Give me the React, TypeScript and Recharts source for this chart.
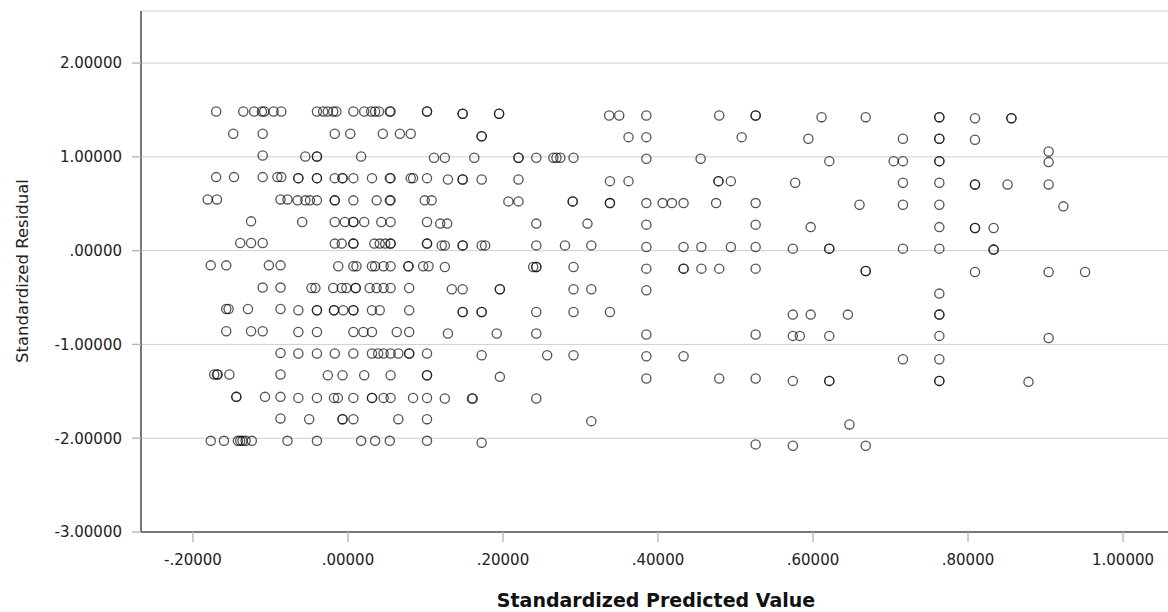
import { CartesianGrid, Label, Scatter, ScatterChart, XAxis, YAxis } from "recharts";

// each row: [standardized residual, predicted values sitting on that residual band]
type Row = [number, number[]];

const farLeftRows: Row[] = [
  [1.483, [-0.17, -0.135, -0.121, -0.111, -0.108, -0.096, -0.086]],
  [1.246, [-0.148, -0.11]],
  [1.015, [-0.11]],
  [0.784, [-0.17, -0.147, -0.11, -0.091, -0.086]],
  [0.546, [-0.181, -0.169, -0.087, -0.078]],
  [0.312, [-0.125]],
  [0.081, [-0.139, -0.125, -0.11]],
  [-0.157, [-0.177, -0.157, -0.102, -0.087]],
  [-0.394, [-0.11, -0.087]],
  [-0.622, [-0.157, -0.154, -0.129, -0.087]],
  [-0.859, [-0.157, -0.125, -0.11]],
  [-1.091, [-0.087]],
  [-1.321, [-0.1725, -0.169, -0.168, -0.153, -0.087]],
  [-1.559, [-0.144, -0.144, -0.107, -0.087]],
  [-1.789, [-0.087]],
  [-2.028, [-0.177, -0.16, -0.142, -0.139, -0.136, -0.132, -0.124, -0.078]],
];

const nearZeroRows: Row[] = [
  [1.483, [-0.04, -0.032, -0.026, -0.019, -0.015, 0.007, 0.021, 0.03, 0.035, 0.04, 0.054, 0.055, 0.102, 0.102]],
  [1.246, [-0.017, 0.003, 0.045, 0.067, 0.081]],
  [1.004, [-0.055, -0.04, -0.04, 0.017]],
  [0.773, [-0.064, -0.064, -0.04, -0.04, -0.017, -0.007, -0.007, 0.007, 0.031, 0.054, 0.055, 0.081, 0.084, 0.102]],
  [0.536, [-0.065, -0.055, -0.049, -0.04, -0.017, -0.017, 0.007, 0.037, 0.054, 0.055, 0.099, 0.108]],
  [0.305, [-0.059, -0.017, -0.004, 0.007, 0.007, 0.021, 0.043, 0.055, 0.102]],
  [0.075, [-0.017, -0.008, 0.007, 0.007, 0.034, 0.041, 0.048, 0.055, 0.055, 0.102, 0.102]],
  [-0.167, [-0.0125, 0.007, 0.011, 0.031, 0.035, 0.046, 0.055, 0.078, 0.078, 0.097, 0.104]],
  [-0.398, [-0.047, -0.042, -0.019, -0.008, -0.002, 0.01, 0.01, 0.028, 0.037, 0.046, 0.055, 0.079]],
  [-0.636, [-0.064, -0.04, -0.04, -0.018, -0.018, -0.006, 0.007, 0.007, 0.031, 0.041, 0.079]],
  [-0.867, [-0.064, -0.04, 0.007, 0.02, 0.031, 0.063, 0.079]],
  [-1.097, [-0.064, -0.04, -0.017, 0.007, 0.031, 0.039, 0.046, 0.055, 0.065, 0.079, 0.079, 0.102]],
  [-1.328, [-0.026, -0.007, 0.021, 0.055, 0.102, 0.102]],
  [-1.57, [-0.064, -0.04, -0.018, -0.013, 0.007, 0.031, 0.031, 0.046, 0.055, 0.084, 0.102]],
  [-1.797, [-0.05, -0.007, -0.007, 0.007, 0.065, 0.102]],
  [-2.028, [-0.04, 0.017, 0.035, 0.054, 0.102]],
];

const lowMidRows: Row[] = [
  [1.459, [0.148, 0.148, 0.195, 0.195]],
  [1.22, [0.1725, 0.1725]],
  [0.99, [0.111, 0.125, 0.163, 0.22, 0.22, 0.243, 0.265, 0.269, 0.274, 0.291]],
  [0.759, [0.129, 0.148, 0.148, 0.1725, 0.22]],
  [0.525, [0.207, 0.22, 0.29, 0.29]],
  [0.288, [0.119, 0.128, 0.243, 0.309]],
  [0.056, [0.121, 0.125, 0.148, 0.148, 0.1725, 0.177, 0.243, 0.28, 0.314]],
  [-0.175, [0.125, 0.239, 0.243, 0.243, 0.291]],
  [-0.412, [0.134, 0.148, 0.196, 0.196, 0.291, 0.314]],
  [-0.654, [0.148, 0.148, 0.1725, 0.1725, 0.243, 0.291]],
  [-0.884, [0.129, 0.192, 0.243]],
  [-1.115, [0.1725, 0.257, 0.291]],
  [-1.346, [0.196]],
  [-1.576, [0.125, 0.16, 0.161, 0.243]],
  [-1.818, [0.314]],
  [-2.049, [0.1725]],
];

const midRows: Row[] = [
  [1.441, [0.337, 0.35, 0.385, 0.479, 0.526, 0.526]],
  [1.21, [0.362, 0.385, 0.508]],
  [0.98, [0.385, 0.455]],
  [0.741, [0.338, 0.362, 0.478, 0.478, 0.494]],
  [0.507, [0.338, 0.338, 0.385, 0.406, 0.418, 0.433, 0.475, 0.526]],
  [0.277, [0.385, 0.526]],
  [0.038, [0.385, 0.433, 0.456, 0.494, 0.526]],
  [-0.192, [0.385, 0.433, 0.433, 0.456, 0.479, 0.526]],
  [-0.423, [0.385]],
  [-0.654, [0.338]],
  [-0.895, [0.385, 0.526]],
  [-1.126, [0.385, 0.433]],
  [-1.363, [0.385, 0.479, 0.526]],
  [-2.066, [0.526]],
];

const upperMidRows: Row[] = [
  [1.423, [0.611, 0.668, 0.763, 0.763]],
  [1.193, [0.594, 0.716, 0.763, 0.763]],
  [0.954, [0.621, 0.704, 0.716, 0.763, 0.763]],
  [0.724, [0.577, 0.716, 0.763]],
  [0.49, [0.66, 0.716, 0.763]],
  [0.251, [0.597, 0.763]],
  [0.021, [0.574, 0.621, 0.621, 0.716, 0.763]],
  [-0.217, [0.668, 0.668]],
  [-0.458, [0.763]],
  [-0.682, [0.574, 0.597, 0.645, 0.763, 0.763]],
  [-0.909, [0.574, 0.583, 0.621, 0.763]],
  [-1.158, [0.716, 0.763]],
  [-1.389, [0.574, 0.621, 0.621, 0.763, 0.763]],
  [-1.853, [0.647]],
  [-2.081, [0.574, 0.668]],
];

const highRows: Row[] = [
  [1.412, [0.809, 0.856, 0.856]],
  [1.182, [0.809]],
  [1.057, [0.904]],
  [0.944, [0.904]],
  [0.706, [0.809, 0.809, 0.851, 0.904]],
  [0.472, [0.923]],
  [0.241, [0.809, 0.809, 0.833]],
  [0.011, [0.833, 0.833]],
  [-0.228, [0.809, 0.904, 0.951]],
  [-0.931, [0.904]],
  [-1.399, [0.878]],
];

const xTicks = [-0.2, 0, 0.2, 0.4, 0.6, 0.8, 1.0];
const yTicks = [-3, -2, -1, 0, 1, 2];

const points = [...farLeftRows, ...nearZeroRows, ...lowMidRows, ...midRows, ...upperMidRows, ...highRows].flatMap(
  ([resid, preds]) => preds.map((pred) => ({ pred, resid }))
);

const FONT = "'DejaVu Sans', sans-serif";

// SPSS style: five decimals, no leading zero
function fmt(v: number) {
  const s = Math.abs(v).toFixed(5);
  const body = s.startsWith("0") ? s.slice(1) : s;
  return (v < 0 ? "-" : "") + body;
}

const Ring = (props: any) => (
  <circle cx={props.cx} cy={props.cy} r={4.6} fill="none" stroke="#111" strokeOpacity={0.72} strokeWidth={1.3} />
);

const tickStyle = { fill: "#222", fontSize: 15, fontFamily: FONT };

export default function App() {
  return (
    <div style={{ position: "absolute", left: 0, top: 0, width: 1168, height: 612, background: "#fff", fontFamily: FONT }}>
      <ScatterChart width={1168} height={612} margin={{ top: 11, right: 0, bottom: 0, left: 0 }}>
        <CartesianGrid vertical={false} stroke="#cfcfcf" />
        <XAxis
          xAxisId="top"
          orientation="top"
          type="number"
          dataKey="pred"
          domain={[-0.267, 1.058]}
          allowDataOverflow
          height={0}
          tick={false}
          tickLine={false}
          axisLine={{ stroke: "#555", strokeWidth: 1.6 }}
        />
        <XAxis
          type="number"
          dataKey="pred"
          domain={[-0.267, 1.058]}
          allowDataOverflow
          ticks={xTicks}
          interval={0}
          tickFormatter={fmt}
          height={80}
          tickSize={10}
          tickMargin={12}
          tick={tickStyle}
          tickLine={{ stroke: "#bbb", strokeWidth: 1.5 }}
          axisLine={{ stroke: "#555", strokeWidth: 1.6 }}
        >
          <Label
            content={() => (
              <text x={656} y={607} textAnchor="middle" fontFamily={FONT} fontSize={19} fontWeight="bold" fill="#111">
                Standardized Predicted Value
              </text>
            )}
          />
        </XAxis>
        <YAxis
          type="number"
          dataKey="resid"
          domain={[-3, 2.555]}
          allowDataOverflow
          ticks={yTicks}
          interval={0}
          tickFormatter={fmt}
          width={141}
          tickSize={9}
          tickMargin={10}
          tick={tickStyle}
          tickLine={{ stroke: "#bbb", strokeWidth: 1.5 }}
          axisLine={{ stroke: "#555", strokeWidth: 1.6 }}
        >
          <Label
            content={() => (
              <text
                x={22}
                y={271}
                dy="0.35em"
                transform="rotate(-90, 22, 271)"
                textAnchor="middle"
                fontFamily={FONT}
                fontSize={16.5}
                fill="#222"
              >
                Standardized Residual
              </text>
            )}
          />
        </YAxis>
        <Scatter data={points} shape={Ring} isAnimationActive={false} />
      </ScatterChart>
    </div>
  );
}
